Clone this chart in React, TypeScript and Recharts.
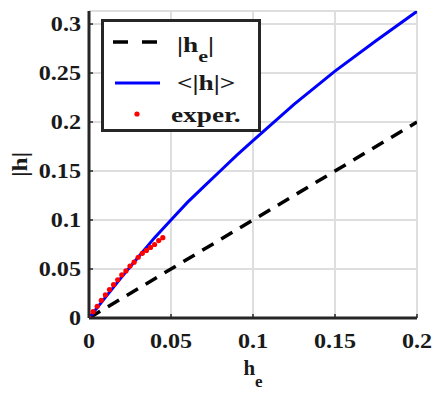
import {
  ComposedChart,
  Line,
  Scatter,
  XAxis,
  YAxis,
  CartesianGrid,
  Legend,
} from 'recharts'

const FONT = 'Liberation Serif'
const INK = '#1a1a1a'
const BOX = '#262626'

const X_TICKS = [0, 0.05, 0.1, 0.15, 0.2]
const Y_TICKS = [0, 0.05, 0.1, 0.15, 0.2, 0.25, 0.3]
const Y_MAX = 0.3133

// |h_e| reference line
const HE_X = [0, 0.2]
const HE_Y = [0, 0.2]

// <|h|> model curve
const MEAN_X = [0, 0.01, 0.02, 0.03, 0.04, 0.05, 0.06, 0.07, 0.08, 0.09, 0.1, 0.125, 0.15, 0.175, 0.2]
const MEAN_Y = [0, 0.021, 0.042, 0.062, 0.082, 0.1, 0.118, 0.134, 0.15, 0.166, 0.181, 0.218, 0.252, 0.283, 0.313]

// experimental points
const EXP_X = [0, 0.0025, 0.005, 0.0075, 0.01, 0.0125, 0.015, 0.0175, 0.02, 0.0225, 0.025, 0.0275, 0.03, 0.0325, 0.035, 0.0375, 0.04, 0.0425, 0.045]
const EXP_Y = [0, 0.0065, 0.012, 0.018, 0.0235, 0.029, 0.034, 0.039, 0.044, 0.048, 0.053, 0.057, 0.062, 0.066, 0.069, 0.072, 0.075, 0.079, 0.082]

const toPoints = (xs: number[], ys: number[]) => xs.map((x, i) => ({ x, y: ys[i] }))

const HE = toPoints(HE_X, HE_Y)
const MEAN = toPoints(MEAN_X, MEAN_Y)
const EXP = toPoints(EXP_X, EXP_Y)

const X_MARGIN = 15
const Y_MARGIN = 8
const TICK_LEN = 4

// presentation attributes for all text
const txt = { fontFamily: FONT, fontWeight: 700, fontSize: 21, fill: INK }

function BottomTick({ x, y, payload }: any) {
  const axisY = y - X_MARGIN
  return (
    <g>
      <line x1={x} y1={axisY} x2={x} y2={axisY - TICK_LEN} stroke={BOX} strokeWidth={1.5} />
      <text transform={`translate(${x},${y}) scale(1.15,1)`} textAnchor="middle" dy="0.71em" {...txt}>
        {String(payload.value)}
      </text>
    </g>
  )
}

function LeftTick({ x, y, payload }: any) {
  const axisX = x + Y_MARGIN
  return (
    <g>
      <line x1={axisX} y1={y} x2={axisX + TICK_LEN} y2={y} stroke={BOX} strokeWidth={1.5} />
      <text transform={`translate(${x},${y}) scale(1.15,1)`} textAnchor="end" dy="0.355em" {...txt}>
        {String(payload.value)}
      </text>
    </g>
  )
}

function TopTick({ x, y }: any) {
  return <line x1={x} y1={y} x2={x} y2={y + TICK_LEN} stroke={BOX} strokeWidth={1.5} />
}

function RightTick({ x, y }: any) {
  return <line x1={x} y1={y} x2={x - TICK_LEN} y2={y} stroke={BOX} strokeWidth={1.5} />
}

function YLabel({ viewBox }: any) {
  const cy = viewBox.y + viewBox.height / 2
  return (
    <text
      transform={`translate(${viewBox.x + 20},${cy}) rotate(-90) scale(1.2,1)`}
      textAnchor="middle"
      dominantBaseline="central"
      {...txt}
    >
      |h|
    </text>
  )
}

function XLabel({ viewBox }: any) {
  const cx = viewBox.x + viewBox.width / 2
  return (
    <text transform={`translate(${cx},${viewBox.y + 57})`} textAnchor="middle" {...txt}>
      h<tspan dy={12} fontSize={17}>e</tspan>
    </text>
  )
}

function LegendBox() {
  return (
    <svg width={160} height={113} style={{ display: 'block' }}>
      <rect x={1.5} y={1.5} width={157} height={110} fill="#fff" stroke={BOX} strokeWidth={3} />
      <line x1={12} y1={23} x2={57} y2={23} stroke="#000" strokeWidth={3.5} strokeDasharray="15 14" />
      <text transform="translate(76,33) scale(1.3,1)" {...txt}>
        |h<tspan dy={10} fontSize={17}>e</tspan>
        <tspan dy={-10}>|</tspan>
      </text>
      <line x1={14} y1={64} x2={59} y2={64} stroke="#0000ff" strokeWidth={3} />
      <text transform="translate(76,71) scale(1.3,1)" {...txt}>
        {'<|h|>'}
      </text>
      <circle cx={36} cy={95} r={2.6} fill="#ff0000" />
      <text transform="translate(70,103) scale(1.3,1)" {...txt}>
        exper.
      </text>
    </svg>
  )
}

export default function App() {
  return (
    <div style={{ position: 'absolute', left: 0, top: 0, background: '#fff' }}>
      <ComposedChart width={435} height={393} margin={{ top: 11, right: 18, bottom: 0, left: 0 }}>
        <CartesianGrid stroke="#dedede" strokeWidth={2} />
        <XAxis
          type="number"
          dataKey="x"
          domain={[0, 0.2]}
          ticks={X_TICKS}
          allowDataOverflow
          height={75}
          tickSize={0}
          tickMargin={X_MARGIN}
          tick={<BottomTick />}
          axisLine={{ stroke: BOX, strokeWidth: 3 }}
          label={<XLabel />}
        />
        <XAxis
          xAxisId="top"
          orientation="top"
          type="number"
          domain={[0, 0.2]}
          ticks={X_TICKS}
          allowDataOverflow
          height={0}
          tickSize={0}
          tickMargin={0}
          tick={<TopTick />}
          axisLine={{ stroke: BOX, strokeWidth: 3 }}
        />
        <YAxis
          type="number"
          dataKey="y"
          domain={[0, Y_MAX]}
          ticks={Y_TICKS}
          allowDataOverflow
          width={89}
          tickSize={0}
          tickMargin={Y_MARGIN}
          tick={<LeftTick />}
          axisLine={{ stroke: BOX, strokeWidth: 3 }}
          label={<YLabel />}
        />
        <YAxis
          yAxisId="right"
          orientation="right"
          type="number"
          domain={[0, Y_MAX]}
          ticks={Y_TICKS}
          allowDataOverflow
          width={0}
          tickSize={0}
          tickMargin={0}
          tick={<RightTick />}
          axisLine={{ stroke: BOX, strokeWidth: 3 }}
        />
        <Line
          data={HE}
          dataKey="y"
          type="linear"
          stroke="#000"
          strokeWidth={3.5}
          strokeDasharray="13 9"
          dot={false}
          isAnimationActive={false}
        />
        <Line
          data={MEAN}
          dataKey="y"
          type="linear"
          stroke="#0000ff"
          strokeWidth={3}
          dot={false}
          isAnimationActive={false}
        />
        <Scatter
          data={EXP}
          dataKey="y"
          fill="#ff0000"
          shape={(p: any) => <circle cx={p.cx} cy={p.cy} r={2.6} fill="#ff0000" />}
          isAnimationActive={false}
        />
        <Legend
          layout="horizontal"
          verticalAlign="middle"
          align="center"
          wrapperStyle={{ left: 101, top: 19, width: 160, height: 113 }}
          content={() => <LegendBox />}
        />
      </ComposedChart>
    </div>
  )
}
